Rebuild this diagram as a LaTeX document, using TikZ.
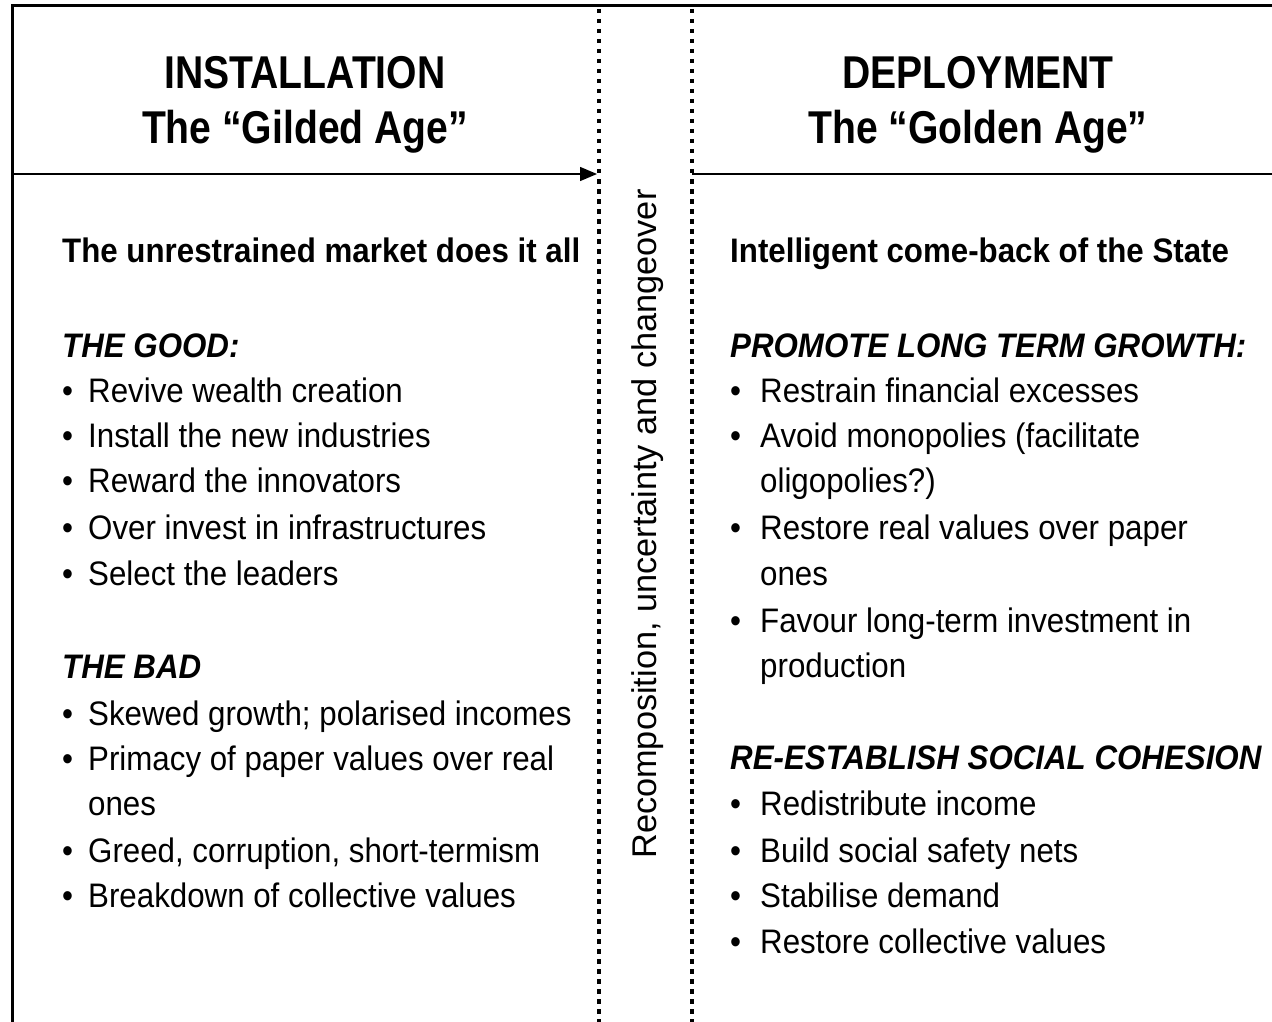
\documentclass[tikz,border=0pt]{standalone}
\usepackage{fontspec}
\setmainfont{Liberation Sans}[FakeStretch=0.92]
\newfontfamily\narrowfont{Liberation Sans}[FakeStretch=0.85]
\newfontfamily\widefont{Liberation Sans}
\usetikzlibrary{arrows.meta}

\tikzset{
	title/.style={anchor=base, inner sep=0pt, font=\narrowfont\bfseries\fontsize{46}{54}\selectfont},
	lead/.style={anchor=base west, inner sep=0pt, font=\bfseries\fontsize{34}{40}\selectfont},
	head/.style={anchor=base west, inner sep=0pt, font=\bfseries\itshape\fontsize{34}{40}\selectfont},
	item/.style={anchor=base west, inner sep=0pt, font=\fontsize{34}{40}\selectfont},
	dotline/.style={line width=4.5pt, dash pattern=on 4.5pt off 5.5pt}
}

\begin{document}
\begin{tikzpicture}[x=1pt, y=-1pt]
	\useasboundingbox (0,0) rectangle (1272,1022);
	% frame and separators
	\draw [line width=3pt] (1272,6) -- (12,6) -- (12,1022);
	\draw [dotline] (599,9) -- (599,1022);
	\draw [dotline] (692,9) -- (692,1022);
	\coordinate (arrowstart) at (12,174);
	\coordinate (arrowend) at (597,174);
	\coordinate (linestart) at (692,174);
	\coordinate (lineend) at (1272,174);
	\draw [line width=1.5pt, arrows={-Triangle[length=17pt, width=14pt]}] (arrowstart) -- (arrowend);
	\draw [line width=1.5pt] (linestart) -- (lineend);
	% titles
	\node [title] (inst) at (305,89) {INSTALLATION};
	\node [title] (gilded) at (305,143) {The “Gilded Age”};
	\node [title] (depl) at (978,89) {DEPLOYMENT};
	\node [title] (golden) at (978,143) {The “Golden Age”};
	% middle
	\node [rotate=90, inner sep=0pt, font=\widefont\fontsize{34.3}{40}\selectfont] (change) at (648,524) {Recomposition, uncertainty and changeover};
	% left column
	\node [lead] (market) at (62,262) {The unrestrained market does it all};
	\node [head] (good) at (62,357) {THE GOOD:};
	\foreach \y/\t [count=\i] in {402/Revive wealth creation, 447/Install the new industries, 492/Reward the innovators, 539/Over invest in infrastructures, 585/Select the leaders} {
		\node [item] (gb\i) at (62,\y) {•};
		\node [item] (g\i) at (88,\y) {\t};
	}
	\node [head] (bad) at (62,678) {THE BAD};
	\foreach \y/\b/\t [count=\i] in {725/1/{Skewed growth; polarised incomes}, 770/1/{Primacy of paper values over real}, 815/0/{ones}, 862/1/{Greed, corruption, short-termism}, 907/1/{Breakdown of collective values}} {
		\ifnum\b=1 \node [item] (bb\i) at (62,\y) {•}; \fi
		\node [item] (b\i) at (88,\y) {\t};
	}
	% right column
	\node [lead] (state) at (730,262) {Intelligent come-back of the State};
	\node [head] (growth) at (730,357) {PROMOTE LONG TERM GROWTH:};
	\foreach \y/\b/\t [count=\i] in {402/1/{Restrain financial excesses}, 447/1/{Avoid monopolies (facilitate}, 492/0/{oligopolies?)}, 539/1/{Restore real values over paper}, 585/0/{ones}, 632/1/{Favour long-term investment in}, 677/0/{production}} {
		\ifnum\b=1 \node [item] (pb\i) at (730,\y) {•}; \fi
		\node [item] (p\i) at (760,\y) {\t};
	}
	\node [head] (cohesion) at (730,769) {RE-ESTABLISH SOCIAL COHESION};
	\foreach \y/\t [count=\i] in {815/Redistribute income, 862/Build social safety nets, 907/Stabilise demand, 953/Restore collective values} {
		\node [item] (cb\i) at (730,\y) {•};
		\node [item] (c\i) at (760,\y) {\t};
	}
\end{tikzpicture}
\end{document}
